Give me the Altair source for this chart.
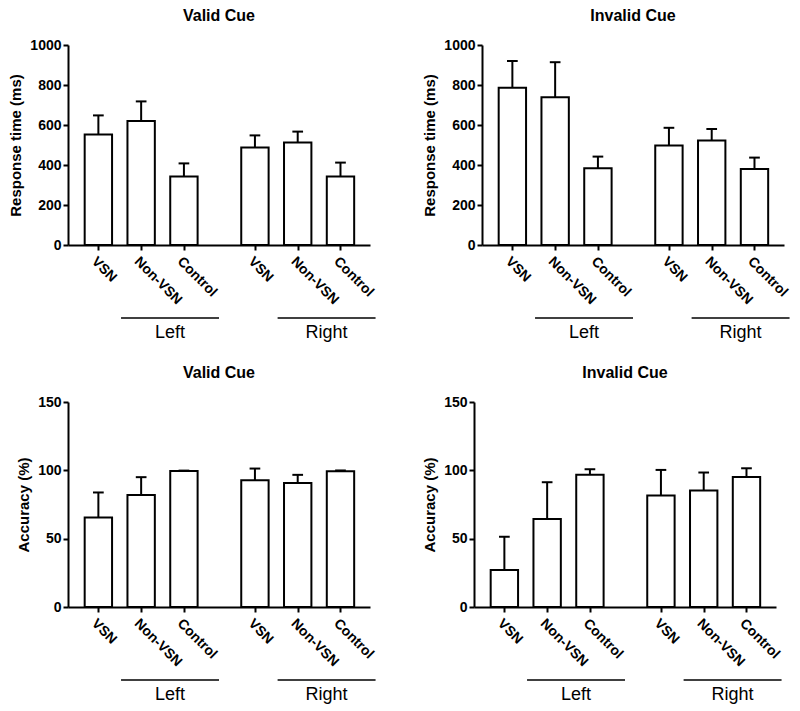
import altair as alt
import pandas as pd

# ---- data ----
groups = ["Left", "Left", "Left", "Right", "Right", "Right"]
subjects = ["VSN", "Non-VSN", "Control", "VSN", "Non-VSN", "Control"]

rt_valid_mean = [553, 620, 343, 487, 513, 342]
rt_valid_err = [95, 98, 65, 61, 54, 70]
rt_invalid_mean = [786, 739, 384, 498, 523, 380]
rt_invalid_err = [134, 175, 58, 88, 57, 57]
acc_valid_mean = [65.5, 82, 99.5, 92.8, 90.8, 99.4]
acc_valid_err = [18.3, 13, 0.3, 8.5, 5.9, 0.5]
acc_invalid_mean = [27, 64.3, 96.7, 81.6, 85.2, 95.2]
acc_invalid_err = [24.4, 27, 4.1, 18.7, 13.2, 6.3]

rt_ticks = [0, 200, 400, 600, 800, 1000]
acc_ticks = [0, 50, 100, 150]

# ---- layout constants ----
FONT = "Liberation Sans"
START = 0.71      # first slot position
GAP = 0.66        # extra gap between groups
HALF = 0.32       # bar half width (slot units)
CAP = 0.125       # error cap half width
XMAX = 7.06
W = 302

positions = [START + i + (GAP if g == "Right" else 0) for i, g in enumerate(groups)]

# label expression for x tick labels built from the arrays
expr = "''"
for p, s in reversed(list(zip(positions, subjects))):
    expr = f"datum.value < {p + 0.3:.3f} ? '{s}' : ({expr})"


def panel(title, means, errs, ytitle, ticks, height):
    df = pd.DataFrame({
        "group": groups, "subject": subjects, "pos": positions,
        "mean": means, "err": errs,
    })
    df["x1"] = df["pos"] - HALF
    df["x2"] = df["pos"] + HALF
    df["zero"] = 0
    df["top"] = df["mean"] + df["err"]
    df["c1"] = df["pos"] - CAP
    df["c2"] = df["pos"] + CAP

    gdf = df.groupby("group", sort=False).agg(first=("pos", "min"), last=("pos", "max")).reset_index()
    gdf["l1"] = gdf["first"] + 0.53
    gdf["l2"] = gdf["last"] + 0.82
    gdf["mid"] = (gdf["l1"] + gdf["l2"]) / 2

    xscale = alt.Scale(domain=[0, XMAX], nice=False, zero=False)
    yscale = alt.Scale(domain=[ticks[0], ticks[-1]], nice=False)

    xaxis = alt.Axis(values=positions, labelExpr=expr, title=None)
    yaxis = alt.Axis(values=ticks, title=ytitle, format="d")

    base = alt.Chart(df)
    bars = base.mark_bar(fill="white", stroke="black", strokeWidth=2).encode(
        x=alt.X("x1:Q", scale=xscale, axis=xaxis),
        x2="x2:Q",
        y=alt.Y("zero:Q", scale=yscale, axis=yaxis),
        y2="mean:Q",
    )
    stem = base.mark_rule(color="black", strokeWidth=2).encode(
        x=alt.X("pos:Q", scale=xscale, axis=xaxis),
        y=alt.Y("mean:Q", scale=yscale, axis=yaxis), y2="top:Q"
    )
    cap = base.mark_rule(color="black", strokeWidth=2).encode(
        x=alt.X("c1:Q", scale=xscale, axis=xaxis), x2="c2:Q",
        y=alt.Y("top:Q", scale=yscale, axis=yaxis)
    )
    gl = alt.Chart(gdf).mark_rule(color="black", strokeWidth=1.5).encode(
        x=alt.X("l1:Q", scale=xscale, axis=xaxis), x2="l2:Q", y=alt.value(height + 73)
    )
    gt = alt.Chart(gdf).mark_text(font=FONT, fontSize=18, color="black", baseline="middle").encode(
        x=alt.X("mid:Q", scale=xscale, axis=xaxis), y=alt.value(height + 88), text="group:N"
    )
    return alt.layer(bars, stem, cap, gl, gt).properties(
        width=W, height=height,
        title=alt.TitleParams(title, font=FONT, fontSize=16, fontWeight="bold", color="black", offset=14),
    )


p1 = panel("Valid Cue", rt_valid_mean, rt_valid_err, "Response time (ms)", rt_ticks, 200)
p2 = panel("Invalid Cue", rt_invalid_mean, rt_invalid_err, "Response time (ms)", rt_ticks, 200)
p3 = panel("Valid Cue", acc_valid_mean, acc_valid_err, "Accuracy (%)", acc_ticks, 205)
p4 = panel("Invalid Cue", acc_invalid_mean, acc_invalid_err, "Accuracy (%)", acc_ticks, 205)

chart = alt.vconcat(
    alt.hconcat(p1, p2, spacing=45),
    alt.hconcat(p3, p4, spacing=45),
    spacing=23,
).properties(
    padding={"left": 0, "top": 0, "right": 0, "bottom": 0}
).configure_view(stroke=None).configure_axis(
    grid=False,
    labelFont=FONT, labelFontSize=14, labelFontWeight="bold", labelColor="black",
    titleFont=FONT, titleFontSize=15, titleFontWeight="bold", titleColor="black",
    domainColor="black", domainWidth=2, tickColor="black", tickWidth=2, tickSize=5,
    labelFlush=False, labelOverlap=False,
).configure_axisX(
    labelAngle=45, labelAlign="left", labelBaseline="top", labelPadding=4,
).configure_axisY(
    labelPadding=2, titlePadding=6,
)

chart.save("out.html", embed_options={"renderer": "svg", "actions": False})
